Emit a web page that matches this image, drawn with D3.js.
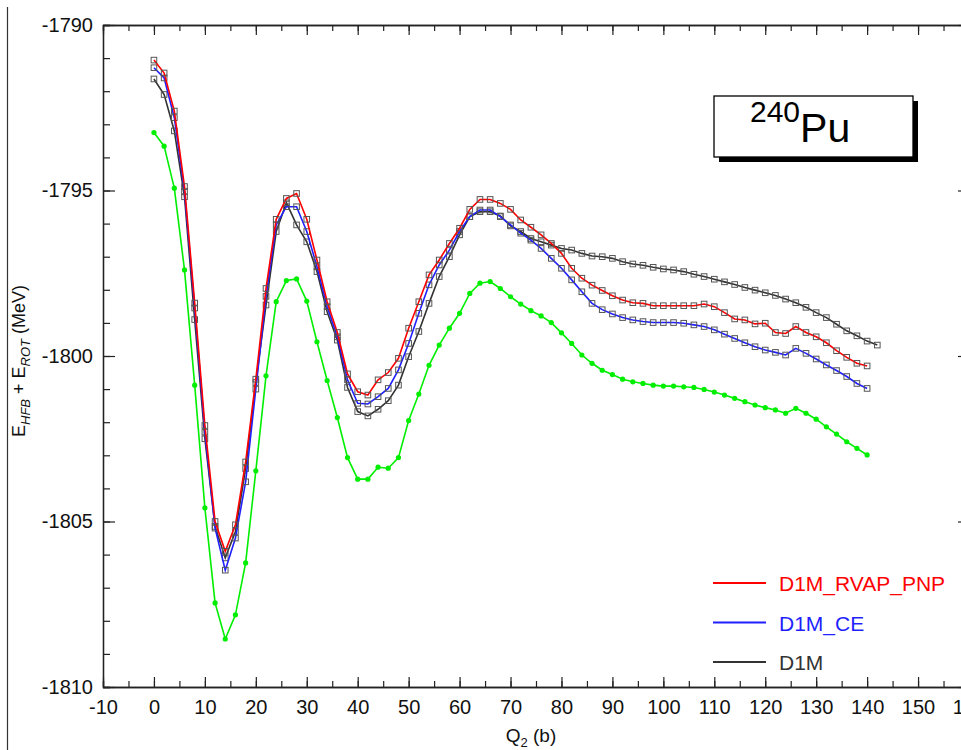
<!DOCTYPE html>
<html>
<head>
<meta charset="utf-8">
<script src="https://cdn.jsdelivr.net/npm/d3@7"></script>
<style>
  body { margin: 0; background: #fff; }
  svg { display: block; font-family: "Liberation Sans", Arial, Helvetica, sans-serif; }
</style>
</head>
<body>
<svg id="chart" width="961" height="750"></svg>
<script>
// Q2 grid (b)
var q2 = [0,2,4,6,8,10,12,14,16,18,20,22,24,26,28,30,32,34,36,38,40,42,44,46,48,50,
  52,54,56,58,60,62,64,66,68,70,72,74,76,78,80,82,84,86,88,90,92,94,96,98,100,
  102,104,106,108,110,112,114,116,118,120,122,124,126,128,130,132,134,136,138,140];
var q2D1M = q2.concat([142]);

// energies (MeV)
var eRvapPnp = [-1791.06,-1791.45,-1792.6,-1794.88,-1798.4,-1802.1,-1805.0,-1805.9,-1805.1,-1803.2,-1800.7,
  -1797.96,-1795.87,-1795.24,-1795.09,-1795.87,-1797.1,-1798.36,-1799.29,-1800.54,-1801.08,-1801.18,-1800.72,
  -1800.5,-1800.07,-1799.16,-1798.36,-1797.55,-1797.1,-1796.6,-1796.14,-1795.57,-1795.27,-1795.27,-1795.39,
  -1795.57,-1795.89,-1796.11,-1796.34,-1796.6,-1796.9,-1797.35,-1797.65,-1797.86,-1798.02,-1798.18,-1798.31,
  -1798.39,-1798.41,-1798.48,-1798.48,-1798.48,-1798.48,-1798.48,-1798.43,-1798.51,-1798.69,-1798.88,-1798.91,
  -1799.03,-1799.01,-1799.29,-1799.32,-1799.11,-1799.29,-1799.42,-1799.6,-1799.84,-1800.04,-1800.22,-1800.3];

var eCE = [-1791.29,-1791.6,-1792.8,-1795.03,-1798.55,-1802.3,-1805.2,-1806.47,-1805.5,-1803.8,-1801.0,
  -1798.2,-1796.04,-1795.49,-1795.49,-1796.24,-1797.3,-1798.51,-1799.42,-1800.72,-1801.43,-1801.45,-1801.23,
  -1800.98,-1800.42,-1799.62,-1798.71,-1797.85,-1797.25,-1796.8,-1796.24,-1795.79,-1795.59,-1795.59,-1795.79,
  -1796.04,-1796.29,-1796.5,-1796.75,-1797.05,-1797.35,-1797.7,-1798.06,-1798.41,-1798.6,-1798.73,-1798.84,
  -1798.91,-1798.96,-1798.99,-1798.99,-1798.99,-1799.01,-1799.06,-1799.11,-1799.21,-1799.34,-1799.47,-1799.6,
  -1799.72,-1799.82,-1799.89,-1799.97,-1799.77,-1799.92,-1800.09,-1800.27,-1800.44,-1800.62,-1800.83,-1800.98];

var eD1M = [-1791.63,-1792.1,-1793.2,-1795.19,-1798.9,-1802.5,-1805.15,-1806.1,-1805.3,-1803.4,-1800.8,
  -1798.46,-1796.24,-1795.37,-1796.04,-1796.55,-1797.45,-1798.66,-1799.52,-1800.95,-1801.68,-1801.81,-1801.61,
  -1801.35,-1800.88,-1800.02,-1799.26,-1798.41,-1797.6,-1797.0,-1796.34,-1795.79,-1795.64,-1795.64,-1795.77,
  -1796.07,-1796.24,-1796.45,-1796.55,-1796.65,-1796.75,-1796.8,-1796.9,-1796.98,-1797.0,-1797.05,-1797.15,
  -1797.22,-1797.26,-1797.32,-1797.37,-1797.4,-1797.45,-1797.53,-1797.6,-1797.68,-1797.76,-1797.84,-1797.93,
  -1798.01,-1798.09,-1798.17,-1798.28,-1798.39,-1798.53,-1798.69,-1798.84,-1799.04,-1799.24,-1799.39,-1799.55,-1799.67];

// green curve (no legend entry)
var eGreen = [-1793.25,-1793.66,-1794.93,-1797.4,-1800.88,-1804.59,-1807.46,-1808.55,-1807.82,-1806.25,-1803.47,
  -1800.6,-1798.36,-1797.72,-1797.67,-1798.34,-1799.57,-1800.74,-1801.86,-1803.07,-1803.72,-1803.72,-1803.36,
  -1803.39,-1803.07,-1801.95,-1801.15,-1800.28,-1799.67,-1799.16,-1798.71,-1798.11,-1797.8,-1797.75,-1797.96,
  -1798.21,-1798.43,-1798.63,-1798.79,-1798.99,-1799.3,-1799.62,-1799.97,-1800.22,-1800.43,-1800.56,-1800.7,
  -1800.78,-1800.83,-1800.88,-1800.91,-1800.91,-1800.93,-1800.95,-1801.01,-1801.09,-1801.18,-1801.28,-1801.38,
  -1801.48,-1801.56,-1801.63,-1801.73,-1801.58,-1801.73,-1801.91,-1802.14,-1802.36,-1802.59,-1802.79,-1802.99];

var xTicks = [-10,0,10,20,30,40,50,60,70,80,90,100,110,120,130,140,150,160];
var yTicks = [-1810,-1805,-1800,-1795,-1790];
var legendNames = ["D1M_RVAP_PNP", "D1M_CE", "D1M"];
var legendColors = ["#ff0000", "#1f1fff", "#333333"];

var svg = d3.select("#chart");
var x = d3.scaleLinear().domain([-10, 160]).range([103, 969]);
var y = d3.scaleLinear().domain([-1810, -1790]).range([687, 25]);
var plain = function(d) { return String(d); };   // hyphen minus, like the original

// stray frame line at far left
svg.append("line").attr("x1", 7.5).attr("x2", 7.5).attr("y1", 7).attr("y2", 750)
  .attr("stroke", "#333").attr("stroke-width", 1.2);

// axes, all ticks pointing inward
function styleAxis(g) {
  g.select(".domain").attr("stroke", "#222").attr("stroke-width", 1.3);
  g.selectAll(".tick line").attr("stroke", "#222").attr("stroke-width", 1.2);
  g.selectAll("text").attr("fill", "#111").style("font-size", "20px");
}
var minorX = d3.range(-10, 161, 5);
var minorY = d3.range(-1810, -1789, 1);

svg.append("g").attr("transform", "translate(0,687)")
  .call(d3.axisBottom(x).tickValues(xTicks).tickSize(-10).tickSizeOuter(0).tickPadding(13).tickFormat(plain))
  .call(styleAxis);
svg.append("g").attr("transform", "translate(0,687)")
  .call(d3.axisBottom(x).tickValues(minorX).tickSize(-6).tickFormat("")).call(styleAxis);

svg.append("g").attr("transform", "translate(0,25)")
  .call(d3.axisTop(x).tickValues(xTicks).tickSize(-10).tickSizeOuter(0).tickFormat(""))
  .call(styleAxis);
svg.append("g").attr("transform", "translate(0,25)")
  .call(d3.axisTop(x).tickValues(minorX).tickSize(-6).tickFormat("")).call(styleAxis);

svg.append("g").attr("transform", "translate(103,0)")
  .call(d3.axisLeft(y).tickValues(yTicks).tickSize(-12).tickSizeOuter(0).tickPadding(10).tickFormat(plain))
  .call(styleAxis);
svg.append("g").attr("transform", "translate(103,0)")
  .call(d3.axisLeft(y).tickValues(minorY).tickSize(-7).tickFormat("")).call(styleAxis);

svg.append("g").attr("transform", "translate(966,0)")
  .call(d3.axisRight(y).tickValues(yTicks).tickSize(-8).tickSizeOuter(0).tickFormat(""))
  .call(styleAxis);

// curves
var line = d3.line().x(function(d) { return x(d[0]); }).y(function(d) { return y(d[1]); });

function drawSeries(qs, es, color, marker) {
  var pts = d3.zip(qs, es);
  svg.append("path").datum(pts).attr("d", line)
    .attr("fill", "none").attr("stroke", color).attr("stroke-width", 1.6);
  if (marker == "square") {
    svg.append("g").selectAll("rect").data(pts).join("rect")
      .attr("x", function(d) { return x(d[0]) - 2.8; })
      .attr("y", function(d) { return y(d[1]) - 2.8; })
      .attr("width", 5.6).attr("height", 5.6)
      .attr("fill", "none").attr("stroke", "#555").attr("stroke-width", 1);
  } else {
    svg.append("g").selectAll("circle").data(pts).join("circle")
      .attr("cx", function(d) { return x(d[0]); })
      .attr("cy", function(d) { return y(d[1]); })
      .attr("r", 2.6).attr("fill", color);
  }
}

drawSeries(q2, eGreen, "#00ee00", "circle");
drawSeries(q2D1M, eD1M, legendColors[2], "square");
drawSeries(q2, eCE, legendColors[1], "square");
drawSeries(q2, eRvapPnp, legendColors[0], "square");

// nucleus label box
svg.append("rect").attr("x", 719).attr("y", 101).attr("width", 199).attr("height", 61).attr("fill", "#000");
svg.append("rect").attr("x", 714).attr("y", 96).attr("width", 199).attr("height", 61)
  .attr("fill", "#fff").attr("stroke", "#000").attr("stroke-width", 1.3);
var lab = svg.append("text").attr("x", 750).attr("y", 142).attr("fill", "#000");
lab.append("tspan").attr("dy", -20).style("font-size", "30px").text("240");
lab.append("tspan").attr("dy", 20).style("font-size", "41px").text("Pu");

// legend
legendNames.forEach(function(n, i) {
  var ly = 583 + i * 39.5;
  svg.append("line").attr("x1", 713).attr("x2", 766).attr("y1", ly).attr("y2", ly)
    .attr("stroke", legendColors[i]).attr("stroke-width", 1.8);
  svg.append("text").attr("x", 779).attr("y", ly + 8).attr("fill", legendColors[i])
    .style("font-size", "21px").text(n);
});

// axis titles
var yl = svg.append("text").attr("transform", "translate(25,361) rotate(-90)")
  .attr("text-anchor", "middle").attr("fill", "#111").style("font-size", "18px");
yl.append("tspan").text("E");
yl.append("tspan").attr("dy", 5).style("font-size", "13px").style("font-style", "italic").text("HFB");
yl.append("tspan").attr("dy", -5).text(" + E");
yl.append("tspan").attr("dy", 5).style("font-size", "13px").style("font-style", "italic").text("ROT");
yl.append("tspan").attr("dy", -5).text(" (MeV)");

var xl = svg.append("text").attr("x", 531).attr("y", 742).attr("text-anchor", "middle")
  .attr("fill", "#111").style("font-size", "19px");
xl.append("tspan").text("Q");
xl.append("tspan").attr("dy", 5).style("font-size", "13px").text("2");
xl.append("tspan").attr("dy", -5).text(" (b)");
</script>
</body>
</html>
